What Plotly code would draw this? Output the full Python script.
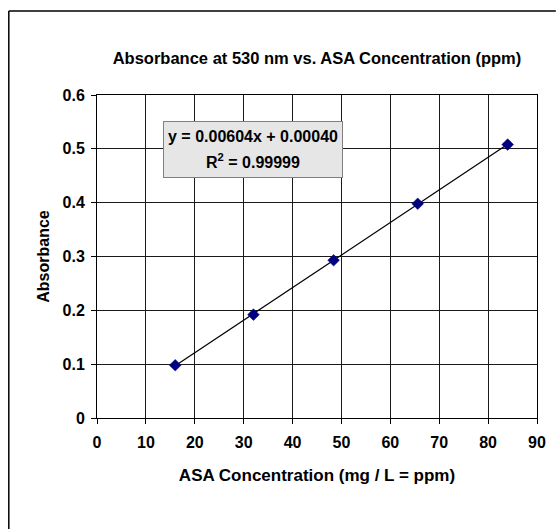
import numpy as np
import plotly.graph_objects as go

conc = [16.0, 32.0, 48.4, 65.6, 84.0]
absorb = [0.098, 0.192, 0.293, 0.398, 0.508]
x_ticks = [0, 10, 20, 30, 40, 50, 60, 70, 80, 90]
y_ticks = [0, 0.1, 0.2, 0.3, 0.4, 0.5, 0.6]
y_tick_text = ["0", "0.1", "0.2", "0.3", "0.4", "0.5", "0.6"]
title_text = "Absorbance at 530 nm vs. ASA Concentration (ppm)"
x_title = "ASA Concentration (mg / L = ppm)"
y_title = "Absorbance"
eq_line1 = "y = 0.00604x + 0.00040"
eq_line2 = "R<sup>2</sup> = 0.99999"

slope, intercept = np.polyfit(conc, absorb, 1)
fit_x = [min(conc), max(conc)]
fit_y = [slope * v + intercept for v in fit_x]

FONT = "Liberation Sans, Arial, sans-serif"

fig = go.Figure()
fig.add_trace(go.Scatter(x=fit_x, y=fit_y, mode="lines",
                         line=dict(color="black", width=1.2), hoverinfo="skip"))
fig.add_trace(go.Scatter(x=conc, y=absorb, mode="markers",
                         marker=dict(symbol="diamond", size=9, color="#000080",
                                     line=dict(color="#000080", width=0.5))))

W, H = 558, 529
ml, mr, mt, mb = 97, 17, 95, 111
pw, ph = W - ml - mr, H - mt - mb

def px_x(p):
    return (p - ml) / pw

def px_y(p):
    return (H - mb - p) / ph

fig.update_layout(
    width=W, height=H,
    margin=dict(l=ml, r=mr, t=mt, b=mb),
    paper_bgcolor="white", plot_bgcolor="white",
    showlegend=False,
    font=dict(family=FONT, color="black", size=16),
    xaxis=dict(range=[0, 90], tickvals=x_ticks, showgrid=True, gridcolor="#1a1a1a",
               gridwidth=1, showline=True, linecolor="black", linewidth=1, mirror=True,
               ticks="outside", ticklen=5, tickcolor="black", zeroline=False,
               ticklabelstandoff=5,
               tickfont=dict(family=FONT, size=16, color="black", weight="bold"),
               title=dict(text="<b>" + x_title + "</b>", font=dict(family=FONT, size=17),
                          standoff=18)),
    yaxis=dict(range=[0, 0.6], tickvals=y_ticks, ticktext=y_tick_text, showgrid=True,
               gridcolor="#1a1a1a", gridwidth=1, showline=True, linecolor="black",
               linewidth=1, mirror=True, ticks="outside", ticklen=5, tickcolor="black",
               zeroline=False, ticklabelstandoff=3,
               tickfont=dict(family=FONT, size=16, color="black", weight="bold"),
               title=dict(text="<b>" + y_title + "</b>", font=dict(family=FONT, size=16),
                          standoff=8)),
    title=dict(text="<b>" + title_text + "</b>", x=0.5, xanchor="center",
               y=1 - 58 / H, yanchor="middle", xref="paper",
               font=dict(family=FONT, size=16.5, color="black")),
)

# equation box (trendline label)
fig.add_annotation(x=32.0, y=0.499, xref="x", yref="y", text=" ",
                   showarrow=False, bgcolor="#e6e6e6", bordercolor="#808080",
                   borderwidth=1, width=176, height=53)
fig.add_annotation(x=32.0, y=0.499, xref="x", yref="y", text="<b>" + eq_line1 + "</b>",
                   showarrow=False, yshift=13,
                   font=dict(family=FONT, size=16, color="black"))
fig.add_annotation(x=32.0, y=0.499, xref="x", yref="y", text="<b>" + eq_line2 + "</b>",
                   showarrow=False, yshift=-12,
                   font=dict(family=FONT, size=16, color="black"))

# outer chart-area border (top and left edges)
fig.add_shape(type="line", xref="paper", yref="paper", x0=px_x(8), x1=px_x(W + 2),
              y0=px_y(11), y1=px_y(11), line=dict(color="black", width=1.5))
fig.add_shape(type="line", xref="paper", yref="paper", x0=px_x(8), x1=px_x(8),
              y0=px_y(11), y1=px_y(H + 2), line=dict(color="black", width=1.5))

fig.write_html("out.html")
